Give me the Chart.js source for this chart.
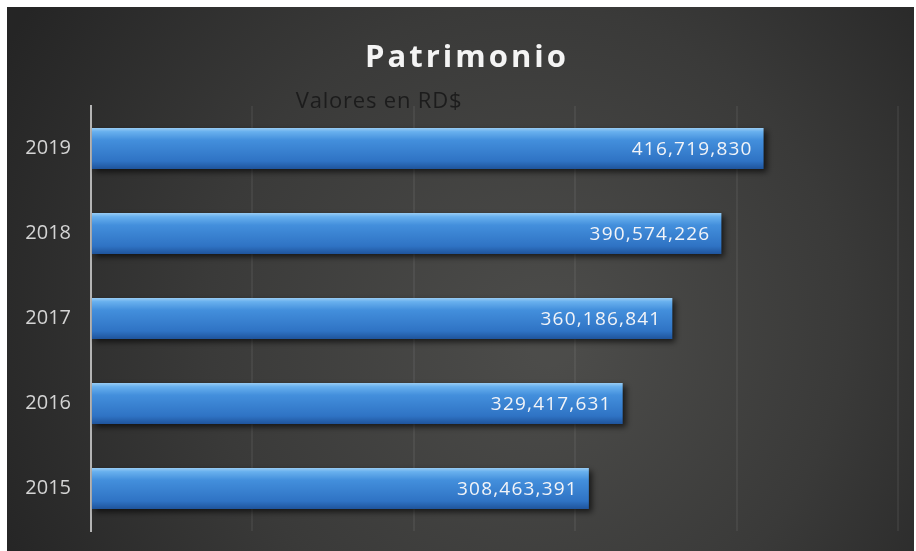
<!DOCTYPE html>
<html>
<head>
<meta charset="utf-8">
<script src="https://cdn.jsdelivr.net/npm/chart.js@4.4.1/dist/chart.umd.min.js"></script>
<style>
  html, body { margin: 0; padding: 0; background: #ffffff; }
  #wrap { position: absolute; left: 7px; top: 7px; width: 907px; height: 544px; }
</style>
</head>
<body>
<div id="wrap"><canvas id="chart"></canvas></div>
<script>
// datos
const years = ["2019", "2018", "2017", "2016", "2015"];
const patrimonio = [416719830, 390574226, 360186841, 329417631, 308463391];
const xMax = 500000000;
const xStep = 100000000;
const titulo = "Patrimonio";
const subtitulo = "Valores en RD$";

const fmt = v => v.toLocaleString("en-US");

// fondo oscuro con degradado
const fondo = {
  id: "fondo",
  beforeDraw(chart) {
    const { ctx, width, height } = chart;
    const g = ctx.createRadialGradient(width * 0.6, height * 0.62, 20, width * 0.55, height * 0.55, width * 0.62);
    g.addColorStop(0, "#4c4c4a");
    g.addColorStop(0.55, "#3a3a39");
    g.addColorStop(1, "#252525");
    ctx.save();
    ctx.fillStyle = g;
    ctx.fillRect(0, 0, width, height);
    ctx.restore();
  }
};

// sombra de las barras y etiquetas
const barras = {
  id: "barras",
  beforeDatasetsDraw(chart) {
    const ctx = chart.ctx;
    ctx.save();
    ctx.shadowColor = "rgba(0,0,0,0.65)";
    ctx.shadowBlur = 6;
    ctx.shadowOffsetX = 3;
    ctx.shadowOffsetY = 3;
  },
  afterDatasetsDraw(chart) {
    const ctx = chart.ctx;
    ctx.restore();
    const meta = chart.getDatasetMeta(0);
    ctx.save();
    ctx.font = "19px 'Open Sans'";
    ctx.letterSpacing = "1.2px";
    ctx.fillStyle = "#f2f4f8";
    ctx.textAlign = "right";
    ctx.textBaseline = "middle";
    meta.data.forEach((bar, i) => {
      ctx.fillText(fmt(patrimonio[i]), bar.x - 11, bar.y + 1);
    });
    ctx.restore();
  }
};

// titulo y subtitulo
const textos = {
  id: "textos",
  afterDraw(chart) {
    const ctx = chart.ctx;
    ctx.save();
    ctx.textBaseline = "middle";
    ctx.textAlign = "center";
    ctx.font = "bold 31px 'Open Sans'";
    ctx.letterSpacing = "3px";
    ctx.fillStyle = "#f4f4f4";
    ctx.fillText(titulo, 460, 51);
    ctx.font = "22px 'Open Sans'";
    ctx.letterSpacing = "0.8px";
    ctx.fillStyle = "#1c1c1c";
    ctx.fillText(subtitulo, 372, 95);
    ctx.restore();
  }
};

function colorBarra(c) {
  const chart = c.chart;
  const y = chart.scales.y;
  if (!y || c.type !== "data") return "#3d8ad8";
  const cy = y.getPixelForValue(c.dataIndex);
  if (!Number.isFinite(cy)) return "#3d8ad8";
  const h = 21;
  const g = chart.ctx.createLinearGradient(0, cy - h, 0, cy + h);
  g.addColorStop(0, "#9fd0f5");
  g.addColorStop(0.1, "#68b0ee");
  g.addColorStop(0.3, "#438fdc");
  g.addColorStop(0.8, "#2f73c4");
  g.addColorStop(1, "#1e5299");
  return g;
}

new Chart(document.getElementById("chart"), {
  type: "bar",
  data: {
    labels: years,
    datasets: [{
      data: patrimonio,
      backgroundColor: colorBarra,
      borderWidth: 0,
      barPercentage: 0.8,
      categoryPercentage: 0.6
    }]
  },
  options: {
    indexAxis: "y",
    responsive: true,
    maintainAspectRatio: false,
    animation: false,
    layout: { padding: { left: 0, right: 16, top: 99, bottom: 20 } },
    plugins: {
      legend: { display: false },
      tooltip: { enabled: false },
      title: { display: false }
    },
    scales: {
      x: {
        min: 0,
        max: xMax,
        ticks: { display: false, stepSize: xStep },
        grid: { color: "rgba(255,255,255,0.06)", lineWidth: 2, drawTicks: false },
        border: { display: false },
        afterFit(scale) { scale.height = 0; }
      },
      y: {
        ticks: {
          color: "#d4d4d4",
          font: { family: "'Open Sans'", size: 20 },
          padding: 20
        },
        grid: { display: false, drawTicks: false },
        border: { display: true, color: "#b4b4b4", width: 2 },
        afterFit(scale) {
          scale.width = 84;
          scale.paddingTop = 0;
          scale.paddingBottom = 0;
        }
      }
    }
  },
  plugins: [fondo, barras, textos]
});
</script>
</body>
</html>
